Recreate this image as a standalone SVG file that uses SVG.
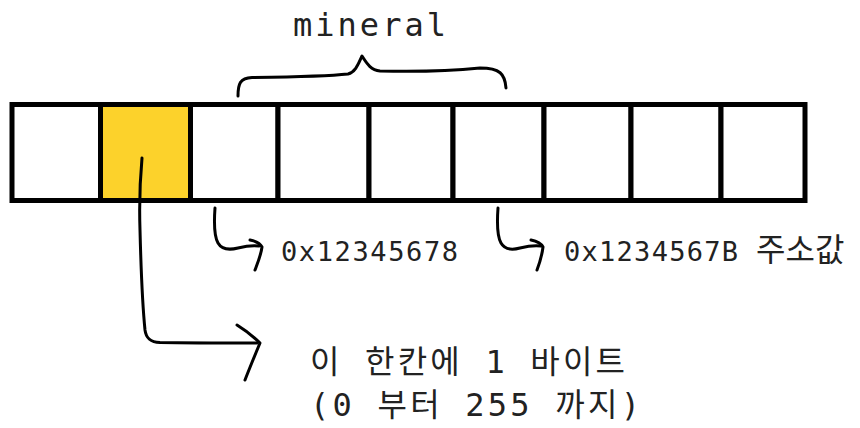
<svg xmlns="http://www.w3.org/2000/svg" width="860" height="428" viewBox="0 0 860 428">
<style>
.cell{fill:#ffffff;stroke:#000;stroke-width:5}
.hl{fill:#fcd22b}
.ink{fill:none;stroke:#000;stroke-width:3;stroke-linecap:round;stroke-linejoin:round}
.mono{font-family:"DejaVu Sans Mono","Liberation Mono","Noto Sans CJK KR",monospace;fill:#222}
.ko{font-family:"DejaVu Sans Mono","Noto Sans CJK KR",monospace;fill:#222}
</style>
<rect width="860" height="428" fill="#fff"/>
<g id="memory">
  <rect id="cell1" class="cell" x="12" y="104.5" width="88.5" height="96"/>
  <rect id="cell2" class="cell hl" x="100.5" y="104.5" width="90" height="96"/>
  <rect id="cell3" class="cell" x="190.5" y="104.5" width="87.5" height="96"/>
  <rect id="cell4" class="cell" x="278" y="104.5" width="91" height="96"/>
  <rect id="cell5" class="cell" x="369" y="104.5" width="84" height="96"/>
  <rect id="cell6" class="cell" x="453" y="104.5" width="91" height="96"/>
  <rect id="cell7" class="cell" x="544" y="104.5" width="87" height="96"/>
  <rect id="cell8" class="cell" x="631" y="104.5" width="90" height="96"/>
  <rect id="cell9" class="cell" x="721" y="104.5" width="84" height="96"/>
</g>
<g id="label-mineral">
  <text class="mono" x="293" y="36" font-size="32" textLength="153" lengthAdjust="spacing">mineral</text>
</g>
<g id="label-addr1">
  <text class="mono" x="281" y="261" font-size="27" textLength="177" lengthAdjust="spacing">0x12345678</text>
</g>
<g id="label-addr2">
  <text class="mono" x="564" y="261" font-size="27" textLength="174" lengthAdjust="spacing">0x1234567B</text>
  <text class="ko" x="756" y="261" font-size="32">주소값</text>
</g>
<g id="label-byte">
  <text class="ko" x="310" y="373" font-size="32" textLength="315" lengthAdjust="spacing">이 한칸에 1 바이트</text>
  <text class="ko" x="310" y="416" font-size="32" textLength="330" lengthAdjust="spacing">(0 부터 255 까지)</text>
</g>
<g id="connectors">
  <path class="ink" d="M238,96 C238,84 240,78 252,77.5 C290,77 330,76 348,74 C356,72 359,62 362,56 C366,62 370,70 380,71 C420,72 460,70 480,68 C500,68 505,74 506,88"/>
  <path class="ink" d="M215,208 C214,222 214,236 218,243 C222,250 230,250 238,248 C246,246 252,245 259,246"/>
  <path class="ink" d="M250,240 C255,241 260,243 262,247 C261,255 258,262 255,270"/>
  <path class="ink" d="M498,208 C497,222 497,236 501,243 C505,250 513,250 520,248 C528,246 534,245 541,246"/>
  <path class="ink" d="M531,240 C536,241 541,243 543,247 C542,255 540,262 537,270"/>
  <path class="ink" d="M142,158 C140,180 139,200 140,230 C141,270 143,310 145,330 C146,338 150,342 160,342.5 C190,343 225,343 257,343"/>
  <path class="ink" d="M237,325 C245,330 253,336 260,343 C255,355 250,367 245,380"/>
</g>
</svg>
